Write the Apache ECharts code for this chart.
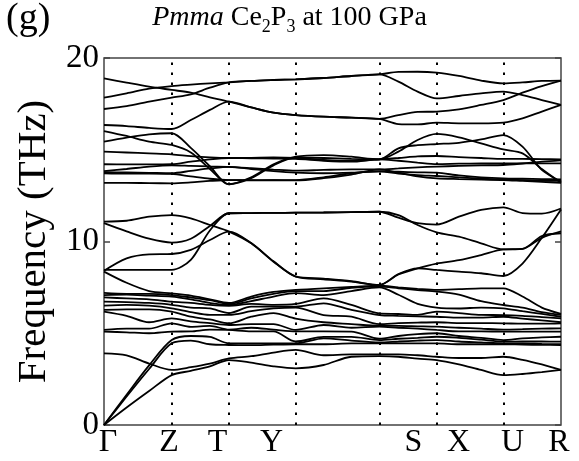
<!DOCTYPE html>
<html><head><meta charset="utf-8">
<script src="https://cdn.jsdelivr.net/npm/echarts@6/dist/echarts.min.js"></script>
<style>html,body{margin:0;padding:0;background:#fff}#c{width:579px;height:461px}</style>
</head><body><div id="c"></div>
<script>
// path coordinate along Γ-Z-T-Y-S-X-U-R
const kPoints = [0, 22.6, 45.1, 67.7, 86.8, 105.9, 125, 147.2, 169.5, 191.7, 219.6, 247.4, 275.3, 294.4, 313.6, 332.7, 354.9, 377.1, 399.3, 418.5, 437.8, 457];
const symNames = ['Γ', 'Z', 'T', 'Y', 'S', 'X', 'U', 'R'];
const symLabelAt = [4, 65, 113.5, 167.5, 309.5, 354.5, 408.5, 455];
const symLineAt = [67.7, 125, 191.7, 275.3, 332.7, 399.3];
const yTickValues = [0, 10, 20];

// frequencies (THz)
const bandsHigh = [
  [18.89, 18.66, 18.44, 18.26, 18.11, 17.86, 17.62, 17.31, 17.02, 16.89, 16.80, 16.75, 16.68, 16.40, 16.38, 16.48, 16.44, 16.44, 16.48, 16.71, 17.08, 17.44],
  [17.84, 18.07, 18.33, 18.47, 18.55, 18.62, 18.67, 18.75, 18.80, 18.84, 18.91, 19.02, 19.11, 19.24, 19.25, 19.20, 19.02, 18.77, 18.62, 18.67, 18.75, 18.77],
  [17.22, 17.38, 17.62, 17.84, 18.02, 18.38, 18.67, 18.75, 18.80, 18.84, 18.91, 19.02, 19.11, 18.71, 18.17, 17.80, 17.93, 18.07, 18.17, 17.98, 17.71, 17.44],
  [16.35, 16.29, 16.19, 16.13, 16.62, 17.17, 17.62, 17.31, 17.02, 16.89, 16.80, 16.75, 16.68, 16.89, 17.06, 17.08, 17.20, 17.44, 17.71, 18.11, 18.47, 18.77]
];
const bandsUpperMid = [
  [16.02, 15.75, 15.44, 15.26, 14.85, 13.95, 13.12, 13.50, 14.20, 14.62, 14.71, 14.62, 14.48, 14.90, 15.53, 15.86, 15.68, 15.35, 15.02, 14.80, 13.95, 13.20],
  [15.44, 15.66, 15.84, 15.90, 15.10, 14.10, 13.12, 13.45, 14.15, 14.57, 14.55, 14.50, 14.48, 15.08, 15.25, 15.31, 15.38, 15.56, 15.80, 15.17, 13.90, 13.26],
  [14.90, 14.85, 14.80, 14.75, 14.65, 14.58, 14.55, 14.56, 14.58, 14.55, 14.45, 14.40, 14.48, 14.55, 14.64, 14.66, 14.60, 14.55, 14.50, 14.50, 14.49, 14.48],
  [14.21, 14.20, 14.20, 14.21, 14.35, 14.48, 14.55, 14.53, 14.52, 14.50, 14.40, 14.35, 14.48, 14.40, 14.30, 14.22, 14.24, 14.25, 14.26, 14.26, 14.26, 14.26],
  [13.84, 13.95, 14.08, 14.15, 14.12, 14.09, 14.07, 14.00, 13.92, 13.86, 13.90, 13.93, 13.93, 13.98, 14.04, 14.08, 14.12, 14.15, 14.17, 14.25, 14.35, 14.42],
  [13.78, 13.76, 13.74, 13.72, 13.85, 13.98, 14.07, 13.95, 13.83, 13.75, 13.72, 13.75, 13.82, 13.80, 13.77, 13.75, 13.60, 13.50, 13.44, 13.42, 13.40, 13.39],
  [13.72, 13.70, 13.70, 13.68, 13.55, 13.42, 13.35, 13.35, 13.35, 13.35, 13.50, 13.72, 13.82, 13.70, 13.62, 13.57, 13.50, 13.42, 13.38, 13.35, 13.32, 13.30],
  [13.20, 13.20, 13.18, 13.17, 13.22, 13.30, 13.35, 13.33, 13.34, 13.33, 13.45, 13.65, 13.93, 13.75, 13.55, 13.44, 13.40, 13.37, 13.35, 13.30, 13.25, 13.20]
];
const bandsMid = [
  [11.00, 10.55, 10.15, 9.94, 10.15, 10.85, 11.54, 11.55, 11.56, 11.57, 11.58, 11.60, 11.62, 11.30, 11.00, 10.92, 11.35, 11.72, 11.86, 11.55, 11.52, 11.80],
  [11.08, 11.13, 11.35, 11.44, 11.26, 10.90, 10.54, 9.90, 8.90, 8.08, 7.94, 7.81, 7.63, 8.23, 8.54, 8.45, 8.36, 8.27, 8.12, 8.80, 10.20, 11.75],
  [8.45, 8.45, 8.45, 8.45, 9.00, 10.60, 11.54, 11.55, 11.56, 11.57, 11.58, 11.60, 11.62, 11.44, 10.90, 10.50, 10.26, 9.90, 9.57, 9.60, 10.30, 10.45],
  [8.40, 9.08, 9.30, 9.32, 9.54, 10.08, 10.54, 9.92, 8.92, 8.10, 7.98, 7.84, 7.63, 8.20, 8.54, 8.80, 8.98, 9.26, 9.57, 9.60, 10.20, 10.55]
];
const bandsLow = [
  [0, 0.95, 1.85, 2.72, 2.95, 3.20, 3.54, 3.40, 3.20, 3.09, 3.27, 3.72, 3.75, 3.72, 3.62, 3.54, 3.30, 3.00, 2.72, 2.78, 2.88, 3.00],
  [3.90, 3.80, 3.35, 3.00, 3.15, 3.35, 3.63, 3.75, 3.95, 4.09, 3.80, 3.85, 3.85, 3.85, 3.80, 3.72, 3.65, 3.65, 3.72, 3.55, 3.30, 3.00],
  [0, 1.55, 3.05, 4.45, 4.60, 4.40, 4.36, 4.35, 4.38, 4.40, 4.40, 4.45, 4.45, 4.45, 4.45, 4.45, 4.40, 4.40, 4.40, 4.38, 4.37, 4.36],
  [0, 1.65, 3.25, 4.63, 4.85, 4.80, 4.45, 4.45, 4.45, 4.45, 4.72, 4.60, 4.50, 4.55, 4.60, 4.63, 4.55, 4.50, 4.45, 4.45, 4.42, 4.40],
  [5.09, 5.05, 5.00, 5.09, 5.10, 5.20, 5.18, 5.10, 5.10, 4.55, 4.80, 4.80, 4.63, 4.70, 4.75, 4.81, 4.75, 4.65, 4.54, 4.55, 4.55, 4.54],
  [5.18, 5.25, 5.25, 5.54, 5.35, 5.40, 5.20, 5.30, 5.20, 5.10, 5.10, 5.09, 4.70, 4.85, 4.95, 5.00, 4.85, 4.75, 4.63, 4.72, 4.77, 4.81],
  [6.18, 5.95, 5.60, 5.81, 5.65, 5.55, 5.45, 5.50, 5.50, 5.18, 5.45, 5.30, 5.36, 5.30, 5.25, 5.18, 5.10, 5.10, 5.09, 5.09, 5.09, 5.09],
  [6.27, 6.30, 6.30, 6.18, 5.90, 5.75, 5.54, 5.90, 6.10, 5.80, 5.60, 5.50, 5.40, 5.40, 5.38, 5.36, 5.30, 5.25, 5.20, 5.22, 5.25, 5.27],
  [6.50, 6.55, 6.50, 6.36, 6.15, 6.00, 6.00, 6.20, 6.35, 6.40, 5.99, 5.90, 5.50, 5.55, 5.58, 5.60, 5.55, 5.55, 5.54, 5.52, 5.52, 5.54],
  [6.72, 6.70, 6.65, 6.55, 6.40, 6.35, 6.10, 6.45, 6.45, 6.45, 6.63, 6.27, 5.99, 5.95, 5.92, 5.90, 5.85, 5.85, 5.90, 5.80, 5.70, 5.60],
  [6.95, 6.90, 6.85, 6.72, 6.65, 6.55, 6.50, 6.60, 6.55, 6.60, 6.90, 6.54, 6.08, 6.05, 6.00, 6.18, 6.10, 6.00, 5.99, 5.95, 5.88, 5.81],
  [7.08, 7.10, 7.05, 7.00, 6.85, 6.65, 6.54, 6.75, 7.00, 7.19, 7.08, 7.30, 7.50, 7.10, 6.60, 6.40, 6.35, 6.40, 6.36, 6.20, 6.05, 5.90],
  [7.20, 7.15, 7.15, 7.08, 6.95, 6.80, 6.60, 6.90, 7.15, 7.30, 7.30, 7.48, 7.54, 7.45, 7.35, 7.27, 7.10, 6.75, 6.54, 6.40, 6.15, 6.00],
  [8.36, 7.75, 7.30, 7.17, 7.05, 6.85, 6.65, 7.00, 7.25, 7.36, 7.45, 7.52, 7.60, 7.50, 7.42, 7.36, 7.40, 7.45, 7.45, 7.00, 6.40, 6.05]
];

const FONT = 'Liberation Serif';
const allBands = [].concat(bandsHigh, bandsUpperMid, bandsMid, bandsLow);

const series = allBands.map((band, bi) => {
  const s = {
    type: 'line',
    data: kPoints.map((k, i) => [k, band[i]]),
    showSymbol: false,
    smooth: 0.3,
    silent: true,
    lineStyle: { color: '#000', width: 1.8 },
    z: 3
  };
  if (bi === 0) {
    s.markLine = {
      silent: true,
      symbol: 'none',
      label: { show: false },
      lineStyle: { color: '#000', type: [2.5, 7.5], width: 2 },
      data: symLineAt.map(v => ({ xAxis: v }))
    };
  }
  return s;
});

const chart = echarts.init(document.getElementById('c'), null, { renderer: 'canvas' });
chart.setOption({
  animation: false,
  backgroundColor: '#fff',
  textStyle: { fontFamily: FONT },
  title: [
    {
      text: '{it|Pmma} Ce{sub|2}P{sub|3} at 100 GPa',
      left: 'center', top: 0, padding: 0,
      textStyle: {
        fontFamily: FONT, fontSize: 28, fontWeight: 'normal', color: '#000', lineHeight: 36,
        rich: {
          it: { fontFamily: FONT, fontSize: 28, fontStyle: 'italic', color: '#000', lineHeight: 36 },
          sub: { fontFamily: FONT, fontSize: 18, color: '#000', lineHeight: 18, verticalAlign: 'bottom' }
        }
      }
    },
    {
      text: '(g)', left: 6, top: 0, padding: 0,
      textStyle: { fontFamily: FONT, fontSize: 38, fontWeight: 'normal', color: '#000' }
    }
  ],
  grid: { left: 104, top: 58, width: 457, height: 367, show: true, borderColor: '#444', borderWidth: 1.5, backgroundColor: 'transparent' },
  xAxis: {
    type: 'value', min: 0, max: 457,
    axisLine: { show: false }, axisTick: { show: false }, splitLine: { show: false },
    axisLabel: {
      customValues: symLabelAt,
      formatter: v => symNames[symLabelAt.indexOf(v)],
      fontFamily: FONT, fontSize: 32, color: '#000', margin: 2
    }
  },
  yAxis: [
    {
      type: 'value', min: 0, max: 20, interval: 10, position: 'left',
      name: 'Frequency (THz)', nameLocation: 'middle', nameGap: 48,
      nameTextStyle: { fontFamily: FONT, fontSize: 41, color: '#000' },
      axisLine: { show: false },
      axisTick: { show: true, inside: true, length: 6, customValues: yTickValues, lineStyle: { color: '#444', width: 1.5 } },
      splitLine: { show: false },
      axisLabel: { fontFamily: FONT, fontSize: 33, color: '#000', margin: 5 }
    },
    {
      type: 'value', min: 0, max: 20, interval: 10, position: 'right',
      axisLine: { show: false },
      axisTick: { show: true, inside: true, length: 6, lineStyle: { color: '#444', width: 1.5 } },
      splitLine: { show: false },
      axisLabel: { show: false }
    }
  ],
  series: series
});
</script>
</body></html>
